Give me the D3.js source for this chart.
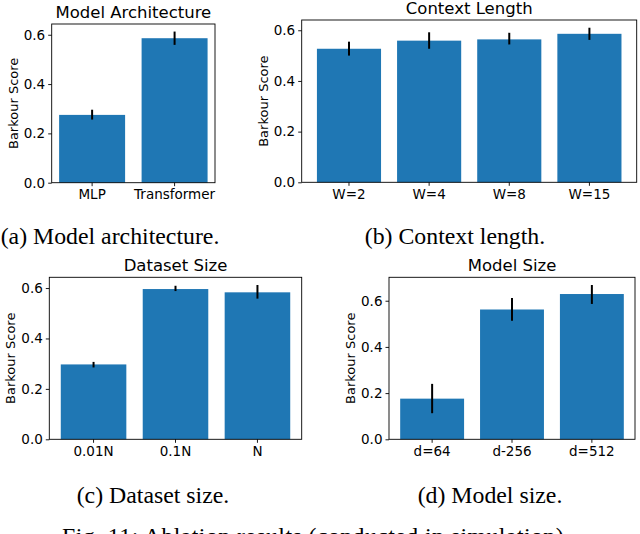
<!DOCTYPE html>
<html>
<head>
<meta charset="utf-8">
<script src="https://cdn.jsdelivr.net/npm/d3@7"></script>
<style>
  html, body { margin: 0; padding: 0; background: #fff; }
  svg { display: block; }
</style>
</head>
<body>
<svg id="chart" width="640" height="534"></svg>
<script>
// ---------- data ----------
const archCategories = ["MLP", "Transformer"];
const archValues = [0.275, 0.586];
const archErrLow = [0.256, 0.559];
const archErrHigh = [0.296, 0.613];

const ctxCategories = ["W=2", "W=4", "W=8", "W=15"];
const ctxValues = [0.527, 0.559, 0.564, 0.586];
const ctxErrLow = [0.500, 0.527, 0.544, 0.562];
const ctxErrHigh = [0.555, 0.592, 0.590, 0.610];

const dataCategories = ["0.01N", "0.1N", "N"];
const dataValues = [0.297, 0.596, 0.583];
const dataErrLow = [0.285, 0.588, 0.558];
const dataErrHigh = [0.307, 0.609, 0.612];

const sizeCategories = ["d=64", "d-256", "d=512"];
const sizeValues = [0.176, 0.562, 0.629];
const sizeErrLow = [0.113, 0.513, 0.586];
const sizeErrHigh = [0.240, 0.612, 0.668];

const yTicks = [0.0, 0.2, 0.4, 0.6];
const titles = ["Model Architecture", "Context Length", "Dataset Size", "Model Size"];
const captions = ["(a) Model architecture.", "(b) Context length.", "(c) Dataset size.", "(d) Model size."];
const yLabel = "Barkour Score";
const figCaption = "Fig. 11: Ablation results (conducted in simulation).";

// ---------- layout ----------
const layout = [
  { x0: 51.7, x1: 215.0, y0: 24.0, y1: 182.7, capX: 110, capY: 244 },
  { x0: 301.7, x1: 636.7, y0: 20.0, y1: 182.3, capX: 455, capY: 244 },
  { x0: 49.3, x1: 301.7, y0: 277.3, y1: 439.3, capX: 153, capY: 503 },
  { x0: 389.0, x1: 635.0, y0: 277.3, y1: 439.3, capX: 490, capY: 503 }
];

const panels = [
  { cats: archCategories, vals: archValues, lo: archErrLow, hi: archErrHigh },
  { cats: ctxCategories, vals: ctxValues, lo: ctxErrLow, hi: ctxErrHigh },
  { cats: dataCategories, vals: dataValues, lo: dataErrLow, hi: dataErrHigh },
  { cats: sizeCategories, vals: sizeValues, lo: sizeErrLow, hi: sizeErrHigh }
];

const svg = d3.select("#chart");
const sans = "'DejaVu Sans', sans-serif";
const serif = "'Liberation Serif', 'Times New Roman', serif";
const barColor = "#1f77b4";

panels.forEach((p, i) => {
  const L = layout[i];
  const n = p.cats.length;
  const x = d3.scaleBand()
    .domain(p.cats)
    .range([L.x0, L.x1])
    .paddingInner(0.2)
    .paddingOuter(0.05 * (n - 0.2));
  const yMax = d3.max(p.hi) * 1.05;
  const y = d3.scaleLinear().domain([0, yMax]).range([L.y1, L.y0]);

  const g = svg.append("g");

  // bars
  g.selectAll("rect.bar").data(p.cats).join("rect")
    .attr("class", "bar")
    .attr("x", d => x(d))
    .attr("width", x.bandwidth())
    .attr("y", (d, j) => y(p.vals[j]))
    .attr("height", (d, j) => y(0) - y(p.vals[j]))
    .attr("fill", barColor);

  // error bars
  g.selectAll("line.err").data(p.cats).join("line")
    .attr("class", "err")
    .attr("x1", d => x(d) + x.bandwidth() / 2)
    .attr("x2", d => x(d) + x.bandwidth() / 2)
    .attr("y1", (d, j) => y(p.lo[j]))
    .attr("y2", (d, j) => y(p.hi[j]))
    .attr("stroke", "#000")
    .attr("stroke-width", 2);

  // frame
  g.append("rect")
    .attr("x", L.x0).attr("y", L.y0)
    .attr("width", L.x1 - L.x0).attr("height", L.y1 - L.y0)
    .attr("fill", "none").attr("stroke", "#000").attr("stroke-width", 0.9);

  // y axis
  const ya = g.append("g").attr("transform", `translate(${L.x0},0)`)
    .call(d3.axisLeft(y).tickValues(yTicks).tickFormat(d3.format(".1f")).tickSize(3.5).tickPadding(3));
  ya.select(".domain").remove();
  ya.selectAll("line").attr("stroke", "#000").attr("stroke-width", 0.9);
  ya.selectAll("text").attr("font-family", sans).attr("font-size", 13.5).attr("fill", "#000");

  // x axis
  const xa = g.append("g").attr("transform", `translate(0,${L.y1})`)
    .call(d3.axisBottom(x).tickSize(3.5).tickPadding(3.5));
  xa.select(".domain").remove();
  xa.selectAll("line").attr("stroke", "#000").attr("stroke-width", 0.9);
  xa.selectAll("text").attr("font-family", sans).attr("font-size", 13.5).attr("fill", "#000");

  // y label
  g.append("text")
    .attr("transform", `translate(${L.x0 - 38.5},${(L.y0 + L.y1) / 2}) rotate(-90)`)
    .attr("text-anchor", "middle")
    .attr("dominant-baseline", "central")
    .attr("font-family", sans).attr("font-size", 13)
    .text(yLabel);

  // title
  g.append("text")
    .attr("x", (L.x0 + L.x1) / 2).attr("y", L.y0 - 6)
    .attr("text-anchor", "middle")
    .attr("font-family", sans).attr("font-size", 16.5)
    .text(titles[i]);

  // caption
  g.append("text")
    .attr("x", L.capX).attr("y", L.capY)
    .attr("text-anchor", "middle")
    .attr("font-family", serif).attr("font-size", 23.8)
    .text(captions[i]);
});

svg.append("text")
  .attr("x", 62).attr("y", 544)
  .attr("font-family", serif).attr("font-size", 23.8)
  .attr("textLength", 508)
  .text(figCaption);
</script>
</body>
</html>
